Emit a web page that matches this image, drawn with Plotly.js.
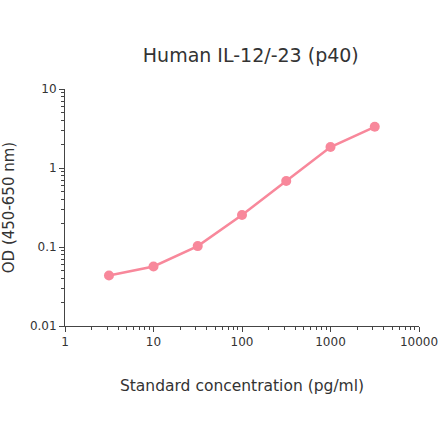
<!DOCTYPE html>
<html>
<head>
<meta charset="utf-8">
<script src="https://cdn.plot.ly/plotly-3.0.1.min.js"></script>
<style>
html, body { margin: 0; padding: 0; background: #fff; }
#graph { width: 440px; height: 441px; }
</style>
</head>
<body>
<div id="graph"></div>
<script>
var concentration = [3.14, 10, 31.6, 100, 316, 1000, 3162]
var od = [0.0435, 0.0567, 0.1026, 0.254, 0.686, 1.84, 3.32]
var xTicks = [1, 10, 100, 1000, 10000]
var yTicks = [0.01, 0.1, 1, 10]

var trace1 = {
    x: concentration,
    y: od,
    type: 'scatter',
    mode: 'lines+markers',
    line: {color: '#f8889b', width: 2.5},
    marker: {color: '#f8889b', size: 10},
    hoverinfo: 'none'
}

var layout = {
    width: 440,
    height: 441,
    margin: {l: 65, r: 21, t: 89, b: 115},
    paper_bgcolor: '#fff',
    plot_bgcolor: '#fff',
    showlegend: false,
    font: {family: 'DejaVu Sans, Verdana, sans-serif', color: '#333', size: 12},
    title: {
        text: 'Human IL-12/-23 (p40)',
        font: {size: 19, color: '#333'},
        x: 0.57, xanchor: 'center',
        y: 0.875, yanchor: 'middle'
    },
    xaxis: {
        type: 'log',
        range: [0, 4],
        tickvals: xTicks,
        ticktext: xTicks.map(String),
        ticks: 'outside',
        ticklen: 5,
        tickcolor: '#444',
        showline: true,
        linecolor: '#444',
        linewidth: 1,
        showgrid: false,
        zeroline: false,
        tickfont: {size: 12, color: '#333'},
        minor: {ticks: 'outside', ticklen: 3, tickcolor: '#444', dtick: 'D1', showgrid: false},
        title: {text: 'Standard concentration (pg/ml)', font: {size: 15.5, color: '#333'}, standoff: 31}
    },
    yaxis: {
        type: 'log',
        range: [-2, 1],
        tickvals: yTicks,
        ticktext: yTicks.map(String),
        ticks: 'outside',
        ticklen: 5,
        tickcolor: '#444',
        showline: true,
        linecolor: '#444',
        linewidth: 1,
        showgrid: false,
        zeroline: false,
        tickfont: {size: 12, color: '#333'},
        minor: {ticks: 'outside', ticklen: 3, tickcolor: '#444', dtick: 'D1', showgrid: false},
        title: {text: 'OD (450-650 nm)', font: {size: 15, color: '#333'}, standoff: 11}
    }
}

Plotly.newPlot('graph', [trace1], layout, {displayModeBar: false, staticPlot: true})
</script>
</body>
</html>
